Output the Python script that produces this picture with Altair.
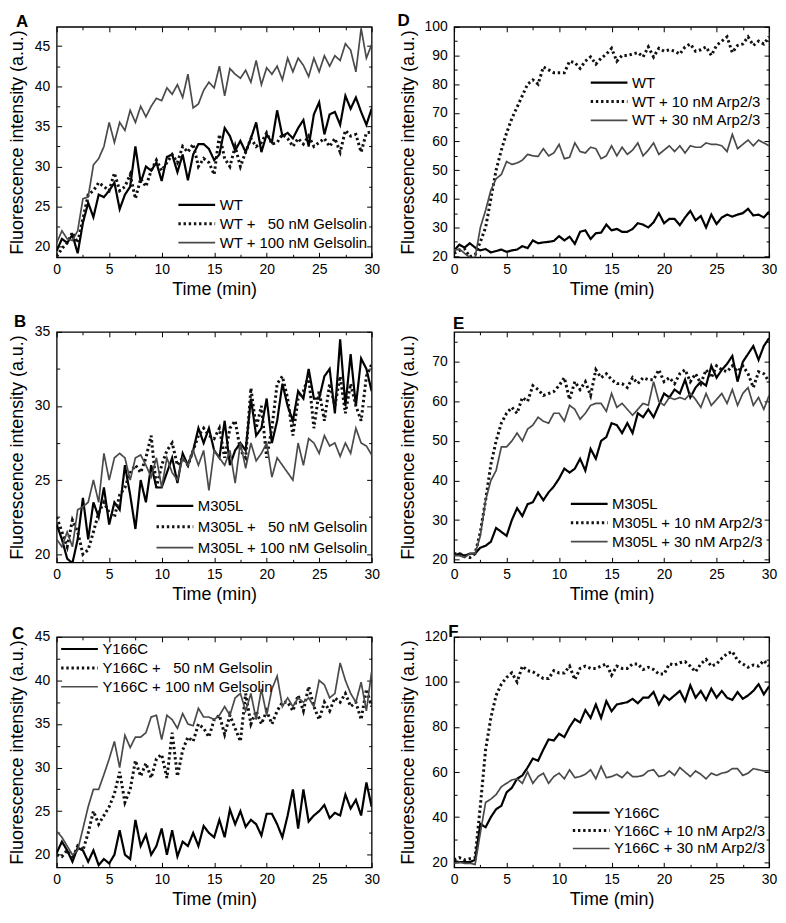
import altair as alt
import pandas as pd

FONT = "Liberation Sans, Arial, sans-serif"

TIME = [0, 0.5, 1, 1.5, 2, 2.5, 3, 3.5, 4, 4.5,
        5, 5.5, 6, 6.5, 7, 7.5, 8, 8.5, 9, 9.5,
        10, 10.5, 11, 11.5, 12, 12.5, 13, 13.5, 14, 14.5,
        15, 15.5, 16, 16.5, 17, 17.5, 18, 18.5, 19, 19.5,
        20, 20.5, 21, 21.5, 22, 22.5, 23, 23.5, 24, 24.5,
        25, 25.5, 26, 26.5, 27, 27.5, 28, 28.5, 29, 29.5,
        30]

X_TICKS = [0, 5, 10, 15, 20, 25, 30]
X_MINOR = [2.5, 7.5, 12.5, 17.5, 22.5, 27.5]

# ---------------- Panel A ----------------
A_LABELS = ["WT", "WT + \u200750 nM Gelsolin", "WT + 100 nM Gelsolin"]
A_WT = [19.5, 21, 20.5, 21.5, 19.2, 23, 25.5, 23.7, 26.5, 26.2,
        27, 28, 24.7, 26.5, 27.5, 32.5, 28, 30, 29.5, 30.5,
        28.2, 31.2, 31.5, 29.3, 31.5, 28.3, 31.5, 32.8, 32.8, 32.2,
        30.8, 31.5, 34.8, 33.8, 32, 33.2, 31.8, 33.5, 35.5, 31.8,
        34, 33, 37, 33.8, 34.2, 33.5, 34.8, 35.8, 32.5, 36.5,
        38, 34, 36.5, 36.8, 35.2, 38.8, 37.2, 38.6, 36.8, 35.2,
        37.2]
A_50 = [18.8, 19.8, 20.5, 21.8, 20.5, 23.5, 26.5, 27, 28, 27.5,
        27, 29.2, 27, 27.5, 29, 26, 28.5, 27.5, 29.5, 30.8,
        29.5, 30.5, 31.5, 30.5, 32.5, 31.8, 32.8, 30, 31, 30.5,
        29, 34, 31, 30, 32.5, 30, 31.8, 33.5, 32.5, 33,
        34.2, 32.8, 33, 34, 33.5, 32.5, 33.5, 32.8, 33.8, 32.5,
        33, 33.5, 32.5, 33.5, 31.8, 34.5, 33.8, 34, 31.8, 34.2,
        34.3]
A_100 = [20.5, 22, 21, 20.8, 22, 26, 26.2, 30.2, 31, 32.5,
         35.5, 33, 35.5, 34.5, 37, 35.5, 37.5, 36.2, 37.5, 38.5,
         38.2, 39.8, 39, 40.2, 38.6, 41.5, 37.3, 37.8, 39.5, 40.5,
         39.8, 42.5, 38.8, 42.2, 41.5, 41, 42, 40.5, 43.2, 40.2,
         42.3, 41.5, 42.5, 40.8, 43.5, 41.8, 43.5, 42.6, 41.2, 43.5,
         41.8, 43.8, 42.5, 43.8, 43.2, 45.3, 44.5, 41.8, 47.2, 43.5,
         45.2]

# ---------------- Panel D ----------------
D_LABELS = ["WT", "WT + 10 nM Arp2/3", "WT + 30 nM Arp2/3"]
D_WT = [22, 24, 23, 24.5, 23, 22, 22.5, 21.3, 21.8, 22.3,
        21.5, 22, 22.3, 23.5, 22.8, 25.5, 24.5, 24.8, 25, 25.3,
        27, 25.5, 26.8, 24.3, 28.5, 29, 26, 28, 28.2, 31,
        29, 29.5, 28.5, 28.5, 29.5, 31.5, 31, 30, 31.8, 35,
        31.5, 33, 33, 30.8, 33.5, 35.8, 32.5, 34, 30, 34.5,
        31.2, 33.5, 34.5, 33.8, 34.5, 35, 36.5, 34.2, 34.5, 33.5,
        35.5]
D_10 = [21, 22, 22.5, 19.8, 20.5, 25, 30, 40, 50, 57,
        63, 68, 72, 76, 80, 81.5, 80, 86, 85, 84,
        84, 84, 88, 87.5, 85.5, 88, 89.5, 87, 89, 90.5,
        92.5, 88, 90, 90, 90.5, 91, 89.5, 93, 89.5, 92.5,
        91.5, 92, 91.5, 90.5, 93, 94, 91.5, 92, 93, 90,
        93.5, 95, 96.5, 91, 93.5, 94, 96.5, 93.5, 95, 94,
        96.5]
D_30 = [22, 22.5, 21, 19.5, 19.5, 30, 36, 43, 47, 48.5,
        53, 52, 52.5, 53.5, 55.5, 55, 54.8, 57.5, 55, 56,
        59, 54, 54.5, 59.5, 56.5, 56, 58, 57.5, 54, 55,
        58.5, 55, 58, 55.5, 57, 59.5, 55, 57, 59.5, 55.5,
        57, 58.5, 56.5, 58.5, 56, 58.5, 58, 58, 59.5, 59,
        59, 58.5, 56.5, 62.5, 57.5, 59, 60.5, 58.5, 60.5, 59.5,
        58.5]

# ---------------- Panel B ----------------
B_LABELS = ["M305L", "M305L + \u200750 nM Gelsolin", "M305L + 100 nM Gelsolin"]
B_WT = [22, 21, 19.7, 19.4, 21, 23.8, 21, 23.5, 22.5, 24.5,
        22, 23.5, 23, 26, 24, 21.7, 25, 23.5, 26, 24.5,
        24.5, 25.5, 26.5, 24.8, 26.8, 26, 27, 28.5, 27.5, 28.5,
        27, 26.5, 29, 26, 27, 27.5, 27, 30.5, 28, 28.5,
        30.5, 27.5, 29, 31.5, 30, 29, 31, 30.5, 32.5, 30.5,
        30.5, 32, 32.5, 29.5, 34.5, 30, 33.5, 30, 33.2, 32.5,
        31]
B_50 = [22.5, 21.5, 20.5, 22.3, 21.5, 20, 20.3, 21.5, 22.8, 23.5,
        22.8, 22.5, 24, 24.5, 25.5, 26, 25.5, 26.5, 28, 24.5,
        26, 27, 27.5, 26, 26.5, 26, 27, 28, 28.5, 28,
        27.8, 28.5, 26.5, 28.5, 29, 27, 26.5, 31.2, 28.5, 30,
        26.5, 28.5, 31.5, 32, 30.5, 28, 30.5, 31, 32, 28.5,
        31, 29, 31.5, 30, 32, 29.5, 31.5, 30, 29, 32,
        32.8]
B_100 = [21, 20.5, 21.5, 20.5, 23, 23.2, 23.5, 25, 23.5, 26.8,
         25, 26.5, 26.8, 26.5, 25, 26.5, 26.7, 26, 25.2, 26.5,
         24.5, 26.5, 25.5, 25, 26.5, 26, 27, 26, 27, 24.3,
         27, 26.5, 26, 27, 24.8, 27.5, 25.8, 27.5, 26.3, 26.8,
         27.5, 25.2, 26.5, 26, 25.5, 25, 27.5, 26, 27.8, 27.5,
         26.8, 28, 27.3, 27.5, 26.6, 27.5, 26.8, 28.5, 27.5, 27.3,
         26.7]

# ---------------- Panel E ----------------
E_LABELS = ["M305L", "M305L + 10 nM Arp2/3", "M305L + 30 nM Arp2/3"]
E_WT = [21, 21.5, 21, 21.5, 21.5, 23, 23.5, 24.5, 28, 27,
        26, 30, 33, 31, 34, 34.5, 37, 35, 37, 38.5,
        40.5, 43, 42, 43, 45.5, 42.5, 48, 45.5, 50, 51,
        54.5, 54, 52, 54.5, 52, 57, 56, 58, 56, 59,
        62, 61, 63, 62, 65.5, 61, 63.5, 65, 64, 69,
        66, 68, 69.5, 71.5, 65, 70, 72, 74, 70.5, 74,
        76]
E_10 = [21.5, 21.5, 21, 20.5, 21.5, 27, 35, 44, 50, 54.5,
        57, 58.5, 57, 61, 60, 64, 63, 61.5, 62, 62.5,
        64, 66, 60.5, 65, 63, 65, 61.5, 68, 66, 67,
        65.5, 64.5, 64.5, 63.5, 66, 64.5, 66, 65.5, 65.5, 68,
        65, 66, 64.5, 67, 68, 65, 67, 64.5, 68, 66,
        69, 68, 67.5, 69, 67.5, 69, 67, 63.5, 67.5, 67,
        65]
E_30 = [21, 21, 20.5, 21.5, 21.5, 26, 35, 40, 42.5, 48.5,
        48.5, 50, 52, 50, 53, 54, 56, 55, 54.5, 57,
        57, 55, 59, 58, 55.5, 57, 59, 59.5, 59.5, 57.5,
        62, 58.5, 59.5, 58, 56.5, 58, 59.5, 59, 65, 60,
        59, 61, 60.5, 61, 60.5, 62, 60.5, 58.5, 62, 59,
        60.5, 62, 59.5, 63, 59, 62, 63.5, 59, 61, 58,
        61.5]

# ---------------- Panel C ----------------
C_LABELS = ["Y166C", "Y166C + \u200750 nM Gelsolin", "Y166C + 100 nM Gelsolin"]
C_WT = [20.2, 21.5, 20.5, 19.2, 20.8, 20.5, 19.2, 20.5, 18.8, 19.5,
        19, 20, 22.8, 20, 19.5, 24, 21, 22.3, 20, 21,
        23, 20, 22.8, 19.8, 21.5, 21, 22.5, 21, 23.3, 22.5,
        22, 24, 22, 25.2, 23.5, 25, 23.2, 24, 23.5, 22.2,
        24.7, 24.7, 23.5, 22, 24.5, 27.5, 23, 27.5, 23.8, 24.5,
        25, 25.7, 24.2, 24.8, 24.5, 26.9, 25.3, 26.3, 24.5, 28.3,
        25.5]
C_50 = [20, 19.8, 20.5, 19.5, 21, 20.5, 22.5, 25, 23.5, 24.5,
        25.5, 27, 29.5, 26, 27.5, 30.8, 29, 30.5, 28.8, 31,
        31.5, 28.8, 34, 29, 32, 33.5, 33, 35, 34.5, 33.5,
        35.5, 36, 33.8, 36, 34.5, 33, 38.5, 35, 36.5, 35,
        36.5, 35, 36.5, 37.5, 37.5, 36.5, 38.3, 36.5, 39.3, 37,
        35.5, 37.5, 36.5, 38, 37.5, 38.5, 37, 37.5, 35.5, 39,
        37]
C_100 = [22.7, 22, 21, 20, 20.5, 23, 25.5, 27.5, 27.5, 29.2,
         31, 33, 30, 33.7, 32.3, 33.5, 33.5, 34, 35.8, 36,
         33.2, 36, 35.5, 34.5, 36.2, 35, 34.8, 36.8, 35.8, 35.8,
         35.5, 36, 37, 36, 38, 38.5, 36.5, 38.5, 35.5, 39,
         36, 39, 40.5, 37, 38, 37, 38, 37.5, 38, 37,
         40, 39.5, 38, 38.5, 42, 40, 38.5, 37.5, 39.8, 36.5,
         41]

# ---------------- Panel F ----------------
F_LABELS = ["Y166C", "Y166C + 10 nM Arp2/3", "Y166C + 30 nM Arp2/3"]
F_WT = [20.5, 20, 20, 20, 21, 37, 35.5, 40, 43.5, 45,
        51, 53, 57, 58.5, 62, 66, 65, 70, 74.5, 74,
        77, 75.5, 80, 83.5, 82, 87.5, 84, 90, 84, 91.5,
        87, 90, 90.5, 91, 92.5, 90.5, 93, 93, 95.5, 90,
        94, 92, 94, 96, 91.5, 98.5, 93, 96, 92, 97,
        93, 96, 93, 92, 95.5, 92.5, 94, 96, 99, 94.5,
        98]
F_10 = [21, 22, 21, 21.5, 22, 45, 70, 84, 94, 99,
        102, 104, 100, 107, 105, 104.5, 103, 101.5, 101.5, 105,
        104, 104, 107, 101, 106, 107, 106, 106, 107, 108,
        103, 107, 106, 106, 108, 108, 105.5, 106.5, 105.5, 103.5,
        103.5, 108, 107.5, 108.5, 109, 107, 104.5, 108, 110, 107,
        108, 110.5, 112.5, 113.5, 109.5, 108, 106.5, 107.5, 107, 109.5,
        107]
F_30 = [19.5, 20, 19.5, 19.5, 19, 33, 46.5, 48, 50, 53.5,
        55, 56.5, 57, 55, 60, 55, 58, 59.5, 55, 58,
        59.5, 57, 61, 57.5, 58, 59, 61, 57, 62.5, 57.5,
        58, 59, 57.5, 60, 58, 58, 58.5, 60.5, 61, 58,
        58.5, 60.5, 58.5, 62, 60, 58, 60.5, 59, 57, 59.5,
        58.5, 59.5, 60, 61.5, 61.5, 58.5, 59.5, 61.5, 61, 60.5,
        60.5]

COLORS = ["#000000", "#111111", "#4a4a4a"]
DASHES = [[1, 0], [2.4, 2.8], [1, 0]]
WIDTHS = [2.2, 3.0, 1.7]

W, H = 317, 232


def panel(letter, labels, series, ydom, yticks, yminor, leg_xy, clip_h, let_xy, col):
    rows = []
    for lab, vals in zip(labels, series):
        for t, v in zip(TIME, vals):
            rows.append({"t": t, "v": v, "series": lab})
    df = pd.DataFrame(rows)
    xs = alt.Scale(domain=[0, 30], nice=False, zero=False)
    ys = alt.Scale(domain=ydom, nice=False, zero=False)
    ext = 24 if col == 0 else 32
    tpad = 6 if col == 0 else 5
    legend = alt.Legend(orient="none", legendX=leg_xy[0], legendY=leg_xy[1], title=None,
                        symbolType="stroke", symbolSize=1369, clipHeight=clip_h,
                        labelFontSize=15, labelFont=FONT, labelColor="black",
                        labelOffset=3, padding=0, rowPadding=0, labelLimit=400)
    base = alt.Chart(df)
    lines = base.mark_line(clip=True, strokeCap="butt").encode(
        x=alt.X("t:Q", scale=xs, axis=alt.Axis(
            orient="bottom", values=X_TICKS, title="Time (min)", ticks=False, domain=False,
            labelPadding=5, titlePadding=4, labelFontSize=14, titleFontSize=18,
            labelFlush=False, labelOverlap=False, grid=False)),
        y=alt.Y("v:Q", scale=ys, axis=alt.Axis(
            orient="left", values=yticks, title="Fluorescence intensity (a.u.)", ticks=False,
            domain=False, labelPadding=7, titlePadding=tpad, minExtent=ext, maxExtent=ext,
            labelFontSize=14, titleFontSize=18, labelFlush=False, labelOverlap=False, grid=False)),
        color=alt.Color("series:N", scale=alt.Scale(type="ordinal", domain=labels, range=COLORS),
                        legend=legend),
        strokeDash=alt.StrokeDash("series:N", scale=alt.Scale(type="ordinal", domain=labels, range=DASHES),
                                  legend=legend),
        strokeWidth=alt.StrokeWidth("series:N", scale=alt.Scale(type="ordinal", domain=labels, range=WIDTHS),
                                    legend=legend),
    )

    def tick_layer(xorient, yorient, xv, yv, size):
        return base.mark_point(opacity=0).encode(
            x=alt.X("t:Q", scale=xs, axis=alt.Axis(
                orient=xorient, values=xv, labels=False, domain=False, ticks=True,
                tickSize=size, offset=-size, title=None, grid=False,
                tickColor="black", tickWidth=1)),
            y=alt.Y("v:Q", scale=ys, axis=alt.Axis(
                orient=yorient, values=yv, labels=False, domain=False, ticks=True,
                tickSize=size, offset=-size, title=None, grid=False,
                tickColor="black", tickWidth=1)),
        )

    t1 = tick_layer("bottom", "left", X_TICKS, yticks, 5)
    t2 = tick_layer("bottom", "left", X_MINOR, yminor, 3)
    t3 = tick_layer("top", "right", X_TICKS, yticks, 5)
    t4 = tick_layer("top", "right", X_MINOR, yminor, 3)

    letter_df = pd.DataFrame({"k": [letter]})
    let = alt.Chart(letter_df).mark_text(
        align="left", baseline="alphabetic", fontSize=17, fontWeight="bold",
        font=FONT, color="black").encode(
        text="k:N", x=alt.value(let_xy[0]), y=alt.value(let_xy[1]))

    return alt.layer(lines, t1, t2, t3, t4, let).resolve_axis(
        x="independent", y="independent").properties(width=W, height=H)


pA = panel("A", A_LABELS, [A_WT, A_50, A_100], [18.7, 47.4],
           [20, 25, 30, 35, 40, 45], [22.5, 27.5, 32.5, 37.5, 42.5],
           (121, 170), 18.5, (-41, 0), 0)
pD = panel("D", D_LABELS, [D_WT, D_10, D_30], [19.6, 100],
           [20, 30, 40, 50, 60, 70, 80, 90, 100], [25, 35, 45, 55, 65, 75, 85, 95],
           (136, 47), 18.5, (-57, -1), 1)
pB = panel("B", B_LABELS, [B_WT, B_50, B_100], [19.45, 35],
           [20, 25, 30, 35], [22.5, 27.5, 32.5],
           (99, 165), 20.5, (-43, -5), 0)
pE = panel("E", E_LABELS, [E_WT, E_10, E_30], [19.3, 77.6],
           [20, 30, 40, 50, 60, 70], [25, 35, 45, 55, 65, 75],
           (116, 164), 18.3, (-1, -3), 1)
pC = panel("C", C_LABELS, [C_WT, C_50, C_100], [18.55, 45],
           [20, 25, 30, 35, 40, 45], [22.5, 27.5, 32.5, 37.5, 42.5],
           (3, 3), 18.5, (-45, 2), 0)
pF = panel("F", F_LABELS, [F_WT, F_10, F_30], [17.7, 120],
           [20, 40, 60, 80, 100, 120], [30, 50, 70, 90, 110],
           (118, 168), 18.0, (-6, 0), 1)

chart = alt.concat(pA, pD, pB, pE, pC, pF, columns=2,
                   spacing={"row": 75, "column": 83}, bounds="flush").resolve_scale(
    color="independent", strokeDash="independent", strokeWidth="independent"
).resolve_legend(
    color="independent", strokeDash="independent", strokeWidth="independent"
).configure_view(
    stroke="black", strokeWidth=1.3
).configure_axis(
    labelFont=FONT, titleFont=FONT, labelColor="black", titleColor="black",
    titleFontWeight="normal", grid=False
).properties(padding=0)

chart.save("out.html", embed_options={"renderer": "svg", "actions": False})
